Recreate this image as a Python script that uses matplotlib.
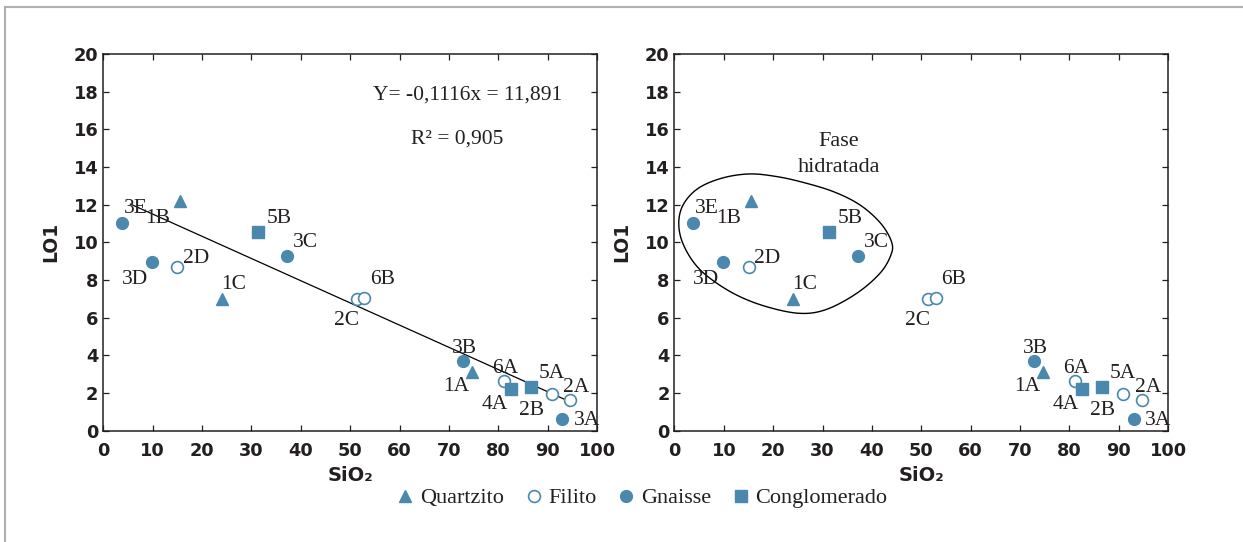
import numpy as np
import matplotlib
matplotlib.use("Agg")
import matplotlib.pyplot as plt
from matplotlib.lines import Line2D
from matplotlib.patches import Polygon

# amostras por litologia: SiO2 (%) e LOI (%)
quartzito_nome = ["1A", "1B", "1C"]
quartzito_sio2 = [74.6, 15.5, 24.1]
quartzito_loi = [3.1, 12.2, 7.0]

filito_nome = ["2A", "2C", "2D", "5A", "6A", "6B"]
filito_sio2 = [94.6, 51.3, 15.0, 90.8, 81.2, 52.9]
filito_loi = [1.63, 6.97, 8.7, 1.95, 2.65, 7.06]

gnaisse_nome = ["3A", "3B", "3C", "3D", "3E"]
gnaisse_sio2 = [93.0, 72.9, 37.2, 9.8, 3.7]
gnaisse_loi = [0.64, 3.72, 9.3, 8.95, 11.05]

conglo_nome = ["2B", "4A", "5B"]
conglo_sio2 = [86.6, 82.5, 31.4]
conglo_loi = [2.34, 2.23, 10.53]

# reta de tendencia (como desenhada)
reta_sio2 = [5.5, 95.5]
reta_loi = [12.03, 1.42]
equacao = "Y= -0,1116x = 11,891"
r2 = "R\u00b2 = 0,905"

# contorno "Fase hidratada"
contorno_sio2 = [15.2, 20.5, 25.8, 32.2, 37.6, 41.8, 44.0, 43.8, 41.6, 36.9, 30.8,
                 25.4, 18.7, 12.6, 7.2, 3.8, 1.45, 0.9, 2.0, 5.0, 9.8]
contorno_loi = [13.63, 13.5, 13.2, 12.69, 11.98, 11.0, 10.0, 9.3, 8.35, 7.29, 6.44,
                6.23, 6.58, 7.2, 8.09, 8.97, 10.12, 11.18, 12.1, 12.9, 13.42]

# posicao dos rotulos (canto esquerdo, linha de base)
rotulo_pos = {
    "3E": (4.2, 11.54), "1B": (8.55, 11.04), "5B": (33.1, 11.04), "3C": (38.3, 9.77),
    "2D": (16.1, 8.92), "3D": (3.8, 7.77), "1C": (23.9, 7.5), "6B": (54.1, 7.79),
    "2C": (46.7, 5.61), "3B": (70.6, 4.14), "1A": (68.9, 2.12), "6A": (78.7, 3.05),
    "4A": (76.6, 1.13), "5A": (88.1, 2.78), "2A": (93.2, 2.07), "2B": (84.1, 0.83),
    "3A": (95.3, 0.30),
}

azul = "#4a88ad"
escuro = "#231f20"
serif = "Liberation Serif"


def closed_spline(xs, ys, n=30):
    p = np.column_stack([xs, ys])
    m = len(p)
    t = np.linspace(0, 1, n, endpoint=False)[:, None]
    segs = []
    for i in range(m):
        p0, p1, p2, p3 = p[i - 1], p[i], p[(i + 1) % m], p[(i + 2) % m]
        segs.append(0.5 * (2 * p1 + (-p0 + p2) * t + (2 * p0 - 5 * p1 + 4 * p2 - p3) * t ** 2
                           + (-p0 + 3 * p1 - 3 * p2 + p3) * t ** 3))
    return np.vstack(segs)


def painel(ax):
    ax.plot(quartzito_sio2, quartzito_loi, "^", ms=9, color=azul, ls="none", zorder=3, label="Quartzito")
    ax.plot(filito_sio2, filito_loi, "o", ms=8.5, mfc="white", mec=azul, mew=1.2, ls="none", zorder=3, label="Filito")
    ax.plot(gnaisse_sio2, gnaisse_loi, "o", ms=8.5, color=azul, ls="none", zorder=3, label="Gnaisse")
    ax.plot(conglo_sio2, conglo_loi, "s", ms=8.5, color=azul, ls="none", zorder=3, label="Conglomerado")
    for nome, (x, y) in rotulo_pos.items():
        ax.text(x, y, nome, fontsize=15.5, family=serif, color=escuro, ha="left", va="baseline", zorder=4)
    ax.set_xlim(0, 100)
    ax.set_ylim(0, 20)
    ax.set_xticks(range(0, 101, 10))
    ax.set_yticks(range(0, 21, 2))
    ax.tick_params(direction="in", length=4.3, width=0.9, top=True, right=True, colors=escuro,
                   labelsize=12.8, labelcolor=escuro)
    ax.tick_params(axis="x", pad=8.5)
    ax.tick_params(axis="y", pad=3.6)
    for lab in ax.get_xticklabels() + ax.get_yticklabels():
        lab.set_fontweight("bold")
    for sp in ax.spines.values():
        sp.set_linewidth(1.1)
        sp.set_color(escuro)
    ax.set_xlabel("SiO\u2082", fontsize=14, fontweight="bold", color=escuro)
    ax.set_ylabel("LO1", fontsize=13.5, fontweight="bold", color=escuro)
    ax.xaxis.set_label_coords(0.5, -0.093)
    ax.yaxis.set_label_coords(-0.088, 0.5)


fig = plt.figure(figsize=(12.43, 5.42), dpi=100)
ax1 = fig.add_axes([0.0831, 0.2054, 0.3972, 0.695])
ax2 = fig.add_axes([0.5426, 0.2054, 0.3972, 0.695])

painel(ax1)
ax1.plot(reta_sio2, reta_loi, color="black", lw=0.9, zorder=2)
ax1.text(54.6, 17.6, equacao, fontsize=15.5, family=serif, color=escuro, va="baseline")
ax1.text(62.4, 15.25, r2, fontsize=15.5, family=serif, color=escuro, va="baseline")

painel(ax2)
ax2.add_patch(Polygon(closed_spline(contorno_sio2, contorno_loi), closed=True, fill=False,
                      edgecolor="black", lw=1.0, zorder=2))
ax2.text(33.3, 15.13, "Fase", fontsize=16, family=serif, color=escuro, ha="center", va="baseline")
ax2.text(33.3, 13.75, "hidratada", fontsize=16, family=serif, color=escuro, ha="center", va="baseline")

handles, labels = ax1.get_legend_handles_labels()
handles = handles[:4]
labels = labels[:4]
fig.legend(handles, labels, loc="center", bbox_to_anchor=(0.516, 0.081), ncol=4, frameon=False,
           prop={"family": serif, "size": 16}, handletextpad=0.2, columnspacing=0.9,
           handlelength=0.9, borderaxespad=0, labelcolor=escuro)

# moldura cinza (topo e esquerda)
fig.add_artist(Line2D([4.5 / 1243, 1], [1 - 6.5 / 542] * 2, transform=fig.transFigure, color="#b0b0b0", lw=1.5))
fig.add_artist(Line2D([4.5 / 1243] * 2, [0, 1 - 6.5 / 542], transform=fig.transFigure, color="#b0b0b0", lw=1.5))

fig.savefig("out.png", dpi=100)
